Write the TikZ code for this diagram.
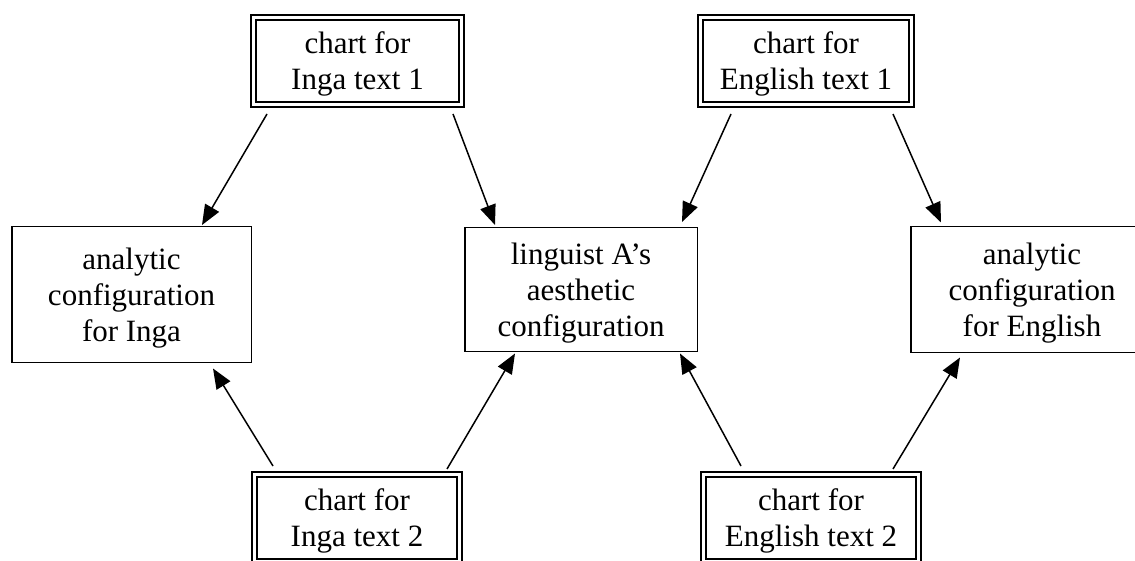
\documentclass[tikz,border=0pt]{standalone}
\usepackage{fontspec}
\setmainfont{Liberation Serif}
\usetikzlibrary{arrows.meta}
\tikzstyle{diagram}=[x=1pt, y=-1pt, font=\fontsize{31}{36}\selectfont]
\tikzstyle{chart}=[rectangle, draw, double, double distance=3pt, line width=2pt, align=center, inner sep=0pt, text depth=0pt]
\tikzstyle{config}=[rectangle, draw, line width=1.5pt, align=center, inner sep=0pt, text depth=0pt]
\tikzstyle{edge}=[-{Triangle[length=20pt, width=16pt]}, line width=1.5pt]

\begin{document}
\begin{tikzpicture}[diagram]
	\clip (0,0) rectangle (1135,561);

	%The charts
	\draw (357.5,61) node[chart, minimum width=208pt, minimum height=87pt] (c1) {chart for\\Inga text 1};
	\draw (806,61) node[chart, minimum width=211pt, minimum height=87pt] (c2) {chart for\\English text 1};
	\draw (357,518) node[chart, minimum width=205pt, minimum height=87pt] (c3) {chart for\\Inga text 2};
	\draw (811,518) node[chart, minimum width=215pt, minimum height=87pt] (c4) {chart for\\English text 2};

	%The configurations
	\draw (131.5,294.5) node[config, minimum width=239.5pt, minimum height=135.5pt] (a1) {analytic\\configuration\\for Inga};
	\draw (581,289.5) node[config, minimum width=232.5pt, minimum height=123.5pt] (a2) {linguist A's\\aesthetic\\configuration};
	\draw (1032,289.5) node[config, minimum width=242.5pt, minimum height=125.5pt] (a3) {analytic\\configuration\\for English};

	%Edges from the top charts
	\draw[edge] ([xshift=-90.5pt,yshift=-8.5pt]c1.south) -- ([xshift=70.5pt,yshift=1pt]a1.north);
	\draw[edge] ([xshift=95.5pt,yshift=-8.5pt]c1.south) -- ([xshift=-86pt,yshift=2pt]a2.north);
	\draw[edge] ([xshift=-75pt,yshift=-8.5pt]c2.south) -- ([xshift=101pt,yshift=5pt]a2.north);
	\draw[edge] ([xshift=87pt,yshift=-8.5pt]c2.south) -- ([xshift=-91pt,yshift=3.5pt]a3.north);

	%Edges from the bottom charts
	\draw[edge] ([xshift=-84pt,yshift=7.5pt]c3.north) -- ([xshift=81.5pt,yshift=-5.5pt]a1.south);
	\draw[edge] ([xshift=90pt,yshift=4.5pt]c3.north) -- ([xshift=-66pt,yshift=-1.5pt]a2.south);
	\draw[edge] ([xshift=-70pt,yshift=7.5pt]c4.north) -- ([xshift=99pt,yshift=-1.5pt]a2.south);
	\draw[edge] ([xshift=82pt,yshift=4.5pt]c4.north) -- ([xshift=-72pt,yshift=-4.5pt]a3.south);
\end{tikzpicture}
\end{document}
